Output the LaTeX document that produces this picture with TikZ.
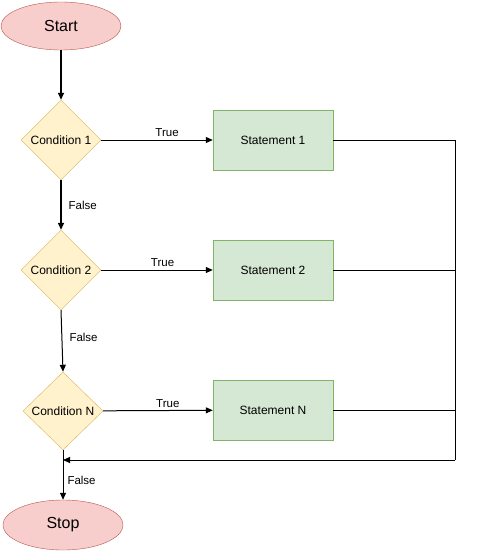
\documentclass[tikz,border=0pt]{standalone}
\usepackage{fontspec}
\setmainfont{Liberation Sans}
\usetikzlibrary{shapes.geometric,arrows.meta}
\definecolor{ellfill}{HTML}{F8CECC}
\definecolor{elldraw}{HTML}{B85450}
\definecolor{diafill}{HTML}{FFF2CC}
\definecolor{diadraw}{HTML}{D6B656}
\definecolor{boxfill}{HTML}{D5E8D4}
\definecolor{boxdraw}{HTML}{82B366}
\tikzset{
  ell/.style={ellipse, draw=elldraw, fill=ellfill, minimum width=120pt, minimum height=48pt, inner sep=0pt, font=\fontsize{16}{18}\selectfont},
  dia/.style={diamond, draw=diadraw, fill=diafill, minimum width=80pt, minimum height=80pt, inner sep=0pt, aspect=1, font=\fontsize{12}{14}\selectfont},
  stbox/.style={rectangle, draw=boxdraw, fill=boxfill, minimum width=120pt, minimum height=60pt, inner sep=0pt, font=\fontsize{12}{14}\selectfont},
  arr/.style={-{Triangle[length=7pt,width=6pt]}, line width=1pt},
  ln/.style={line width=1pt},
  lbl/.style={font=\fontsize{11.5}{13}\selectfont, inner sep=1pt},
}
\begin{document}
\begin{tikzpicture}[x=1pt,y=-1pt]
\useasboundingbox (0,0) rectangle (478,551);
\node[ell] (start) at (61,26) {Start};
\node[dia] (c1) at (61,140) {Condition 1};
\node[dia] (c2) at (61,270) {Condition 2};
\node[dia, minimum width=80pt, minimum height=78pt] (cN) at (63,411) {Condition N};
\node[ell, minimum height=50pt] (stop) at (63,525) {Stop};
\node[stbox] (s1) at (273,140) {Statement 1};
\node[stbox] (s2) at (273,270) {Statement 2};
\node[stbox] (sN) at (273,410) {Statement N};
\coordinate (r1) at (455,140);
\coordinate (r2) at (455,270);
\coordinate (rN) at (455,410);
\coordinate (r3) at (455,460);
\coordinate (m) at (63,460);
\draw[arr, line width=1.6pt] (start) -- (c1);
\draw[arr] (c1) -- node[lbl, above, pos=0.59, yshift=2pt] {True} (s1);
\draw[arr, line width=1.4pt] (c1) -- node[lbl, right, xshift=6pt] {False} (c2);
\draw[arr] (c2) -- node[lbl, above, pos=0.55, yshift=2pt] {True} (s2);
\draw[arr] (c2.south) -- node[lbl, right, xshift=6pt, yshift=4pt] {False} (cN.north);
\draw[arr] (cN) -- node[lbl, above, pos=0.59, yshift=1pt] {True} (sN);
\draw[arr] (cN) -- node[lbl, right, xshift=3pt, yshift=-5pt] {False} (stop);
\draw[ln] (s1) -- (r1) -- (r3);
\draw[ln] (s2) -- (r2);
\draw[ln] (sN) -- (rN);
\draw[arr] (r3) -- (m);
\end{tikzpicture}
\end{document}
